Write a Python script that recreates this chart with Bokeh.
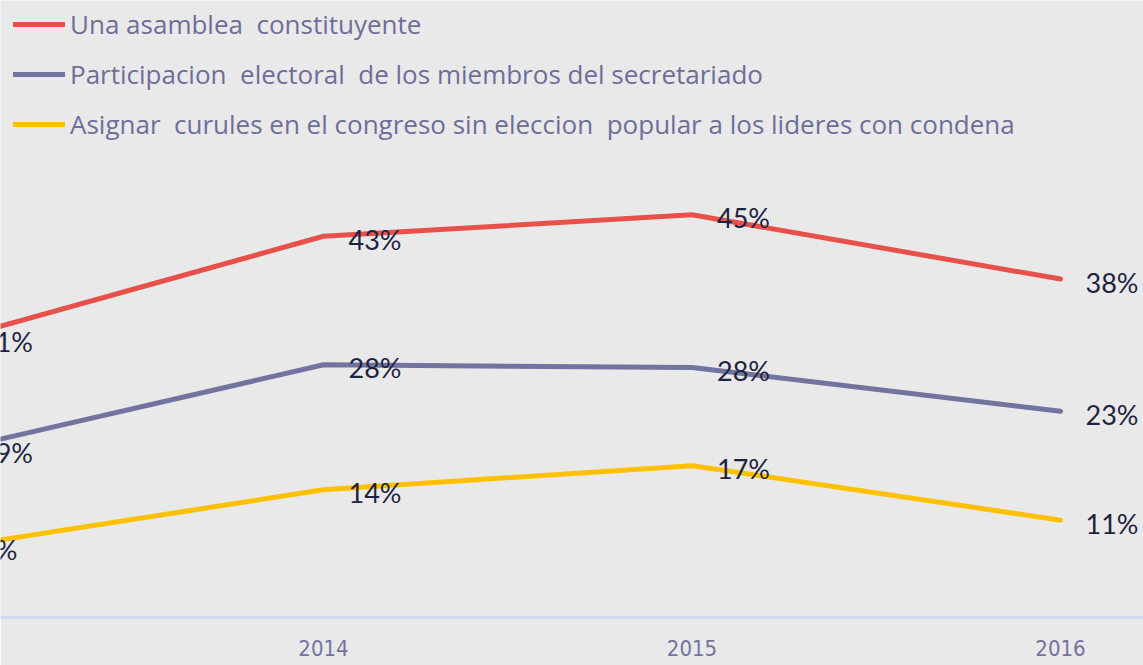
from bokeh.plotting import figure
from bokeh.models import Range1d, FixedTicker, ColumnDataSource, Legend, LegendItem, LabelSet
from bokeh.core.properties import value
from bokeh.embed import file_html
from bokeh.resources import INLINE

years = [2013, 2014, 2015, 2016]
series_names = [
    "Una asamblea  constituyente",
    "Participacion  electoral  de los miembros del secretariado",
    "Asignar  curules en el congreso sin eleccion  popular a los lideres con condena",
]
asamblea = [31.2, 42.7, 45.1, 37.9]
participacion = [18.8, 28.3, 28.0, 23.1]
curules = [7.9, 14.3, 17.0, 10.9]
tick_labels = ["2013", "2014", "2015", "2016"]

colors = ["#e8504a", "#72739f", "#ffc000"]
BG = "#e9e9e9"

p = figure(width=1143, height=665, output_backend="svg", toolbar_location=None,
           x_range=Range1d(2013.1235, 2016.2252), y_range=Range1d(0, 69.1),
           min_border_left=0, min_border_right=0, min_border_top=0, min_border_bottom=48,
           background_fill_color=BG, border_fill_color=BG, outline_line_color=None)

p.grid.visible = False
p.yaxis.visible = False
p.xaxis.ticker = FixedTicker(ticks=years)
p.xaxis.major_label_overrides = {y: t for y, t in zip(years, tick_labels)}
p.xaxis.axis_line_color = "#d3d9ee"
p.xaxis.axis_line_width = 3
p.xaxis.major_tick_line_color = None
p.xaxis.minor_tick_line_color = None
p.xaxis.major_tick_out = 0
p.xaxis.major_tick_in = 0
p.xaxis.major_label_text_font = "DejaVu Sans Condensed"
p.xaxis.major_label_text_font_size = "22px"
p.xaxis.major_label_text_color = "#74739f"
p.xaxis.major_label_standoff = 22

items = []
for name, vals, c in zip(series_names, [asamblea, participacion, curules], colors):
    src = ColumnDataSource(dict(x=years, y=vals, lbl=[f"{round(v)}%" for v in vals]))
    r = p.line("x", "y", source=src, line_color=c, line_width=5, line_cap="round", line_join="round")
    items.append(LegendItem(label=name, renderers=[r]))
    lab = LabelSet(x="x", y="y", text="lbl", source=src, x_offset=25, y_offset=-3,
                   text_baseline="middle", text_align="left", text_font=value("Lato"),
                   text_font_size="27px", text_color="#1e2340")
    p.add_layout(lab)

legend = Legend(items=items, location=(13, 475), margin=0, padding=0,
                background_fill_alpha=0, border_line_alpha=0,
                glyph_width=52, glyph_height=36, label_height=36, label_standoff=5,
                spacing=14, label_text_font="Open Sans", label_text_font_size="26px",
                label_text_color="#6e6e9a")
p.add_layout(legend)

open("out.html", "w").write(file_html(p, INLINE))
